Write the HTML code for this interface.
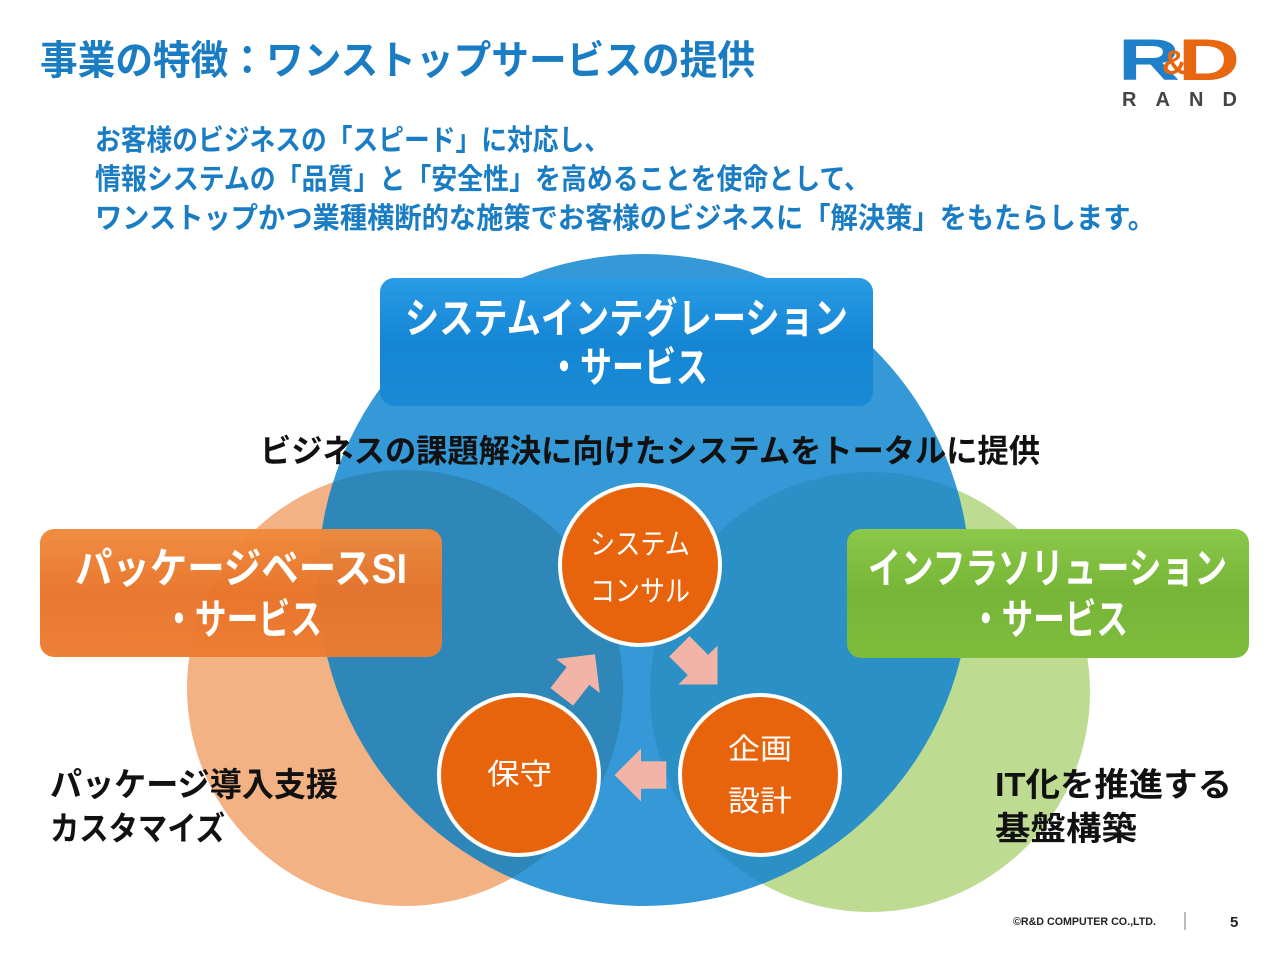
<!DOCTYPE html>
<html><head><meta charset="utf-8"><style>
html,body{margin:0;padding:0;background:#fff;}
svg{display:block;}
text{font-family:"Liberation Sans","Noto Sans CJK JP",sans-serif;}
</style></head><body>
<svg width="1280" height="960" viewBox="0 0 1280 960">
<defs>
<clipPath id="cb"><circle cx="644" cy="580" r="326"/></clipPath>
<linearGradient id="gb" x1="0" y1="0" x2="0" y2="1"><stop offset="0" stop-color="#2a9be6"/><stop offset="0.5" stop-color="#1586d4"/><stop offset="1" stop-color="#1a8ad6"/></linearGradient>
<linearGradient id="go" x1="0" y1="0" x2="0" y2="1"><stop offset="0" stop-color="#f08a3c"/><stop offset="0.5" stop-color="#e8742a"/><stop offset="1" stop-color="#ec7c30"/></linearGradient>
<linearGradient id="gg" x1="0" y1="0" x2="0" y2="1"><stop offset="0" stop-color="#8cc84a"/><stop offset="0.5" stop-color="#76b536"/><stop offset="1" stop-color="#7ebd3c"/></linearGradient>
<polygon id="arr" points="-22,-12 0,-12 0,-23 23,0 0,23 0,12 -22,12"/>
</defs>
<text x="40" y="74" font-size="40" font-weight="700" fill="#1a7dc4" textLength="715" lengthAdjust="spacingAndGlyphs">事業の特徴：ワンストップサービスの提供</text>
<text x="1118" y="80" font-size="58" font-weight="700" fill="#1f7fc8" font-family="Liberation Sans,sans-serif" textLength="62" lengthAdjust="spacingAndGlyphs">R</text>
<text x="1178" y="80" font-size="58" font-weight="700" fill="#e8660f" font-family="Liberation Sans,sans-serif" textLength="62" lengthAdjust="spacingAndGlyphs">D</text>
<text x="1162" y="74" font-size="34" font-weight="700" fill="#e8660f" font-family="Liberation Sans,sans-serif">&amp;</text>
<text x="1122" y="106" font-size="20" font-weight="700" fill="#444" font-family="Liberation Serif,serif" textLength="115" lengthAdjust="spacing">RAND</text>
<g font-size="29" font-weight="700" fill="#1a7dc4">
<text x="95" y="150" textLength="515" lengthAdjust="spacingAndGlyphs">お客様のビジネスの「スピード」に対応し、</text>
<text x="95" y="189" textLength="775" lengthAdjust="spacingAndGlyphs">情報システムの「品質」と「安全性」を高めることを使命として、</text>
<text x="95" y="228" textLength="1060" lengthAdjust="spacingAndGlyphs">ワンストップかつ業種横断的な施策でお客様のビジネスに「解決策」をもたらします。</text>
</g>
<circle cx="405" cy="688" r="218" fill="#f2b283"/>
<circle cx="870" cy="692" r="220" fill="#bedb92"/>
<circle cx="644" cy="580" r="326" fill="#3499d6"/>
<g clip-path="url(#cb)">
<circle cx="405" cy="688" r="218" fill="#2f87b9"/>
<circle cx="870" cy="692" r="220" fill="#2a90c6"/>
</g>
<rect x="380" y="278" width="493" height="128" rx="14" fill="url(#gb)"/>
<rect x="40" y="529" width="402" height="128" rx="14" fill="url(#go)" opacity="0.97"/>
<rect x="847" y="529" width="402" height="129" rx="14" fill="url(#gg)"/>
<g font-size="42" font-weight="700" fill="#fff">
<text x="405" y="333" textLength="443" lengthAdjust="spacingAndGlyphs">システムインテグレーション</text>
<text x="548" y="382" textLength="160" lengthAdjust="spacingAndGlyphs">・サービス</text>
<text x="75" y="583" textLength="332" lengthAdjust="spacingAndGlyphs">パッケージベースSI</text>
<text x="163" y="634" textLength="159" lengthAdjust="spacingAndGlyphs">・サービス</text>
<text x="868" y="583" textLength="359" lengthAdjust="spacingAndGlyphs">インフラソリューション</text>
<text x="970" y="634" textLength="158" lengthAdjust="spacingAndGlyphs">・サービス</text>
</g>
<text x="260" y="462" font-size="32" font-weight="700" fill="#111" textLength="780" lengthAdjust="spacingAndGlyphs">ビジネスの課題解決に向けたシステムをトータルに提供</text>
<g fill="#e8640c" stroke="#fff" stroke-width="4">
<circle cx="640" cy="565" r="80"/>
<circle cx="760" cy="775" r="80"/>
<circle cx="519" cy="775" r="80"/>
</g>
<g font-size="29" fill="#fff">
<text x="590" y="554" textLength="100" lengthAdjust="spacingAndGlyphs">システム</text>
<text x="590" y="601" textLength="100" lengthAdjust="spacingAndGlyphs">コンサル</text>
<text x="487" y="784" textLength="65" lengthAdjust="spacingAndGlyphs">保守</text>
<text x="728" y="759" textLength="64" lengthAdjust="spacingAndGlyphs">企画</text>
<text x="728" y="811" textLength="64" lengthAdjust="spacingAndGlyphs">設計</text>
</g>
<g fill="#f2b4a6">
<use href="#arr" transform="translate(641,775) rotate(180) scale(1.15)"/>
<use href="#arr" transform="translate(578,676) rotate(-52) scale(1.2)"/>
<use href="#arr" transform="translate(698,665) rotate(45) scale(1.2)"/>
</g>
<g font-size="33" font-weight="700" fill="#111">
<text x="50" y="796" textLength="288" lengthAdjust="spacingAndGlyphs">パッケージ導入支援</text>
<text x="50" y="840" textLength="175" lengthAdjust="spacingAndGlyphs">カスタマイズ</text>
<text x="995" y="796" textLength="237" lengthAdjust="spacingAndGlyphs">IT化を推進する</text>
<text x="995" y="840" textLength="142" lengthAdjust="spacingAndGlyphs">基盤構築</text>
</g>
<text x="1013" y="925" font-size="11" font-weight="700" fill="#222" textLength="143" lengthAdjust="spacingAndGlyphs">©R&amp;D COMPUTER CO.,LTD.</text>
<line x1="1185" y1="912" x2="1185" y2="930" stroke="#777" stroke-width="1"/>
<text x="1230" y="927" font-size="15" font-weight="700" fill="#222">5</text>
</svg>
</body></html>
